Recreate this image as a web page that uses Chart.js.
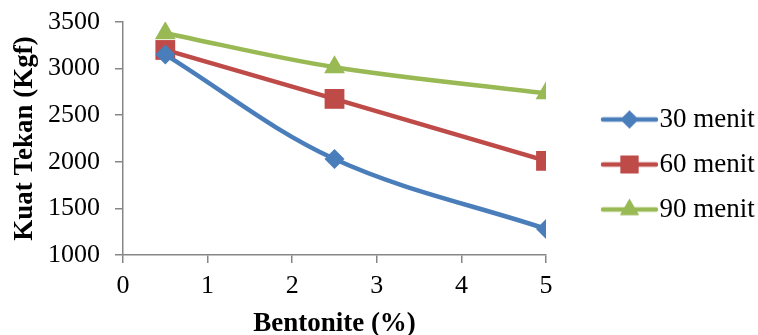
<!DOCTYPE html>
<html lang="id">
<head>
    <meta charset="UTF-8">
    <title>Kuat Tekan vs Bentonite</title>
    <script src="https://cdn.jsdelivr.net/npm/chart.js@4.4.1/dist/chart.umd.min.js"></script>
    <style>
        html, body { margin: 0; padding: 0; background: #fff; }
        #wrap { width: 758px; height: 335px; position: relative; }
    </style>
</head>
<body>
<div id="wrap"><canvas id="grafik"></canvas></div>
<script>
    // Data
    const bentonite = [0.5, 2.5, 5];
    const menit30 = [3150, 2030, 1280];
    const menit60 = [3200, 2675, 2010];
    const menit90 = [3380, 3015, 2735];
    const labelSeri = ['30 menit', '60 menit', '90 menit'];
    const xTicks = [0, 1, 2, 3, 4, 5];
    const yTicks = [1000, 1500, 2000, 2500, 3000, 3500];

    const warna = ['#4A7EBB', '#BE4B48', '#98B954'];
    const bentuk = ['rectRot', 'rect', 'triangle'];
    const ukuran = [10, 14, 12];

    function titik(arr) {
        return arr.map((v, i) => ({x: bentonite[i], y: v}));
    }

    // ikon legend: garis + penanda (kanvas lebih lebar dari kotak, menutup celah ke teks)
    function ikonLegend(i) {
        const c = document.createElement('canvas');
        c.width = 106; c.height = 26;
        const g = c.getContext('2d');
        g.strokeStyle = warna[i];
        g.lineWidth = 4.5;
        g.lineCap = 'round';
        g.beginPath();
        g.moveTo(51, 13); g.lineTo(104, 13);
        g.stroke();
        g.fillStyle = warna[i];
        Chart.helpers.drawPoint(g, {pointStyle: bentuk[i], radius: ukuran[i] * 0.9, rotation: 0}, 77.5, 13);
        g.fill();
        return c;
    }

    const seri = [menit30, menit60, menit90];
    const font = 'Liberation Serif, Times New Roman, serif';

    // geser legend sedikit ke atas
    const geserLegend = {
        id: 'geserLegend',
        afterLayout(chart) {
            chart.legend.top -= 14;
            chart.legend.bottom -= 14;
        }
    };

    new Chart(document.getElementById('grafik'), {
        type: 'line',
        data: {
            datasets: seri.map((s, i) => ({
                label: labelSeri[i],
                data: titik(s),
                borderColor: warna[i],
                backgroundColor: warna[i],
                borderWidth: 4.5,
                pointStyle: bentuk[i],
                pointRadius: ukuran[i],
                pointHoverRadius: ukuran[i],
                pointBorderWidth: 0,
                tension: 0.35,
                fill: false
            }))
        },
        plugins: [geserLegend],
        options: {
            responsive: true,
            maintainAspectRatio: false,
            animation: false,
            layout: { padding: { top: 22, right: 0, left: 0, bottom: 0 } },
            plugins: {
                tooltip: { enabled: false },
                legend: {
                    position: 'right',
                    maxWidth: 212,
                    labels: {
                        usePointStyle: true,
                        pointStyleWidth: 82,
                        padding: 18,
                        color: '#000',
                        font: { family: font, size: 27 },
                        generateLabels: (chart) => chart.data.datasets.map((d, i) => ({
                            text: d.label,
                            pointStyle: ikonLegend(i),
                            fillStyle: warna[i],
                            strokeStyle: warna[i],
                            lineWidth: 0,
                            hidden: false,
                            datasetIndex: i
                        }))
                    }
                }
            },
            scales: {
                x: {
                    type: 'linear',
                    min: 0,
                    max: 5,
                    afterFit: (s) => { s.height = 80; },
                    afterBuildTicks: (s) => { s.ticks = xTicks.map(v => ({value: v})); },
                    grid: { drawOnChartArea: false, color: '#868686', tickLength: 8, lineWidth: 1.5 },
                    border: { color: '#868686', width: 1.5 },
                    ticks: { color: '#000', padding: 8, font: { family: font, size: 26 } },
                    title: {
                        display: true,
                        text: 'Bentonite (%)',
                        color: '#000',
                        padding: { top: 0, bottom: 0 },
                        font: { family: font, size: 27, weight: 'bold', lineHeight: 0.8 }
                    }
                },
                y: {
                    min: 1000,
                    max: 3500,
                    afterFit: (s) => { s.width = 123; s.paddingTop = 14; s.paddingBottom = 14; },
                    afterBuildTicks: (s) => { s.ticks = yTicks.map(v => ({value: v})); },
                    grid: { drawOnChartArea: false, color: '#868686', tickLength: 8, lineWidth: 1.5 },
                    border: { color: '#868686', width: 1.5 },
                    ticks: {
                        color: '#000',
                        padding: 15,
                        font: { family: font, size: 26 },
                        callback: (v) => String(v)
                    },
                    title: {
                        display: true,
                        text: 'Kuat Tekan (Kgf)',
                        color: '#000',
                        padding: { top: 12, bottom: 0 },
                        font: { family: font, size: 27, weight: 'bold', lineHeight: 1 }
                    }
                }
            }
        }
    });
</script>
</body>
</html>
